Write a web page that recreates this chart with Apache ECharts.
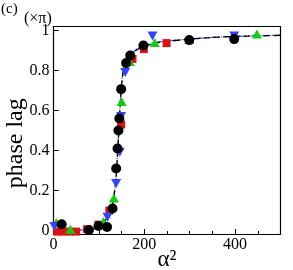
<!DOCTYPE html>
<html><head><meta charset="utf-8">
<script src="https://cdn.jsdelivr.net/npm/echarts@6/dist/echarts.min.js"></script>
<style>html,body{margin:0;padding:0;background:#fff}#c{width:293px;height:270px}</style>
</head><body><div id="c"></div>
<script>
var xTicks = [0, 200, 400];
var yTicks = [0, 0.2, 0.4, 0.6, 0.8, 1];
var circles = [[18,0.032],[78,0.003],[99,0.023],[118,0.018],[130,0.11],[138,0.31],[141,0.41],[143,0.50],[145,0.56],[149,0.707],[160,0.837],[169,0.875],[198,0.925],[299,0.952],[398,0.957]];
var squares = [[8,-0.005],[20,-0.005],[35,-0.005],[50,-0.005],[74,0.007],[99,0.03],[123,0.1],[149,0.53],[174,0.858],[199,0.907],[249,0.937]];
var downTri = [[2,0.02],[119,0.067],[138,0.235],[146,0.392],[149,0.57],[158,0.79],[218,0.973],[398,0.973]];
var upTri = [[6,0.04],[37,0.007],[110,0.046],[133,0.163],[150,0.645],[168,0.845],[223,0.94],[299,0.955],[448,0.983]];
var blackCurve = [[0,0],[60,0.002],[90,0.01],[110,0.04],[120,0.07],[130,0.13],[135,0.2],[138,0.27],[141,0.38],[143,0.46],[145,0.55],[147,0.63],[149,0.7],[152,0.77],[156,0.82],[162,0.85],[170,0.875],[185,0.905],[200,0.92],[230,0.94],[260,0.948],[300,0.957],[350,0.965],[400,0.97],[450,0.973],[500,0.976]];
var blueCurve = [[0,0.005],[60,0.003],[90,0.012],[110,0.042],[120,0.072],[130,0.135],[135,0.21],[138,0.28],[141,0.39],[143,0.47],[145,0.56],[147,0.64],[149,0.71],[152,0.78],[156,0.825],[162,0.855],[170,0.88],[185,0.91],[200,0.925],[230,0.942],[260,0.95],[300,0.958],[350,0.966],[400,0.971],[450,0.974],[500,0.977]];

var font = "Liberation Serif";
var chart = echarts.init(document.getElementById('c'), null, {renderer:'canvas'});
chart.setOption({
  animation: false,
  backgroundColor: '#fff',
  title: [
    {text: '(c)', left: -4, top: -3, textStyle: {fontFamily: font, fontSize: 15, fontWeight: 'normal', color: '#000'}},
    {text: '(×π)', left: 19, top: 6, textStyle: {fontFamily: font, fontSize: 16, fontWeight: 'normal', color: '#000'}}
  ],
  grid: {left: 53.5, right: 12.5, top: 26.5, bottom: 36, containLabel: false, outerBoundsMode: 'none'},
  xAxis: [{
    type: 'value', min: 0, max: 500, interval: 200,
    axisLine: {show: true, onZero: false, lineStyle: {color: '#000', width: 1.2}},
    axisTick: {show: true, inside: true, length: 5, lineStyle: {color: '#000'}},
    minorTick: {show: true, splitNumber: 4, length: 3, lineStyle: {color: '#000'}},
    splitLine: {show: false}, minorSplitLine: {show: false},
    axisLabel: {color: '#000', fontFamily: font, fontSize: 16, margin: 3, hideOverlap: false,
      formatter: function(v){ return xTicks.indexOf(v) >= 0 ? String(v) : ''; }},
    name: 'α²', nameLocation: 'middle', nameGap: 14, nameMoveOverlap: false,
    nameTextStyle: {color: '#000', fontFamily: font, fontSize: 23, verticalAlign: 'top'}
  }, {
    type: 'value', min: 0, max: 500, position: 'top',
    axisLine: {show: true, onZero: false, lineStyle: {color: '#000', width: 1.2}},
    axisTick: {show: false}, axisLabel: {show: false}, splitLine: {show: false}
  }],
  yAxis: [{
    type: 'value', min: -0.017, max: 1.02,
    axisLine: {show: true, onZero: false, lineStyle: {color: '#000', width: 1.2}},
    axisTick: {show: true, inside: true, length: 5, lineStyle: {color: '#000'},
      customValues: yTicks},
    minorTick: {show: false},
    splitLine: {show: false},
    axisLabel: {color: '#000', fontFamily: font, fontSize: 16, margin: 4, hideOverlap: false,
      customValues: yTicks,
      formatter: function(v){ return String(+(+v).toFixed(1)); }},
    name: 'phase lag', nameLocation: 'middle', nameGap: 26, nameRotate: 90, nameMoveOverlap: false,
    nameTextStyle: {color: '#000', fontFamily: font, fontSize: 24, padding: [0, 26, 0, 0]}
  }, {
    type: 'value', min: -0.017, max: 1.02, position: 'right',
    axisLine: {show: true, onZero: false, lineStyle: {color: '#000', width: 1.2}},
    axisTick: {show: false}, axisLabel: {show: false}, splitLine: {show: false}
  }],
  series: [
    {type: 'line', data: blueCurve, showSymbol: false, smooth: 0.2, z: 2,
      lineStyle: {color: '#3344ff', width: 1.2, type: [5, 2, 1.2, 2, 1.2, 2]}},
    {type: 'line', data: blackCurve, showSymbol: false, smooth: 0.2, z: 3,
      lineStyle: {color: '#000', width: 1.3, type: [7, 3]}},
    {type: 'scatter', data: squares, symbol: 'rect', symbolSize: 8, z: 4,
      itemStyle: {color: '#dd1111', opacity: 1}},
    {type: 'scatter', data: upTri, symbol: 'triangle', symbolSize: [10, 9], z: 5,
      itemStyle: {color: '#11cc11', opacity: 1}},
    {type: 'scatter', data: downTri, symbol: 'triangle', symbolRotate: 180, symbolSize: [10, 9], z: 6,
      itemStyle: {color: '#3344ff', opacity: 1}},
    {type: 'scatter', data: circles, symbol: 'circle', symbolSize: 10, z: 7,
      itemStyle: {color: '#000', opacity: 1}}
  ]
});
</script></body></html>
